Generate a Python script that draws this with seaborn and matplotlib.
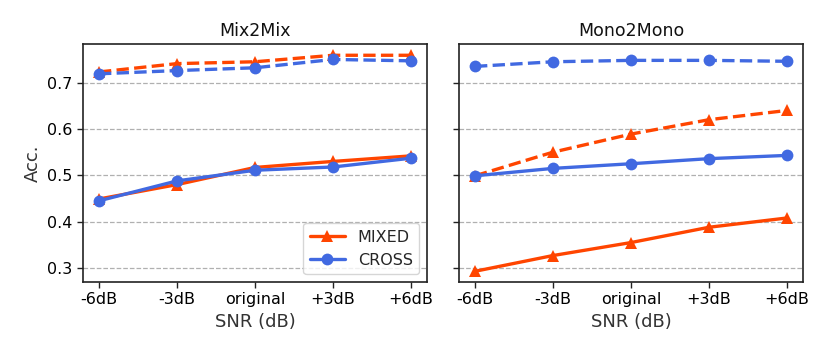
import matplotlib
matplotlib.use("Agg")
import matplotlib.pyplot as plt
import seaborn as sns

SNR_LEVELS = ["-6dB", "-3dB", "original", "+3dB", "+6dB"]

# Mix2Mix panel
MIX_MIXED_DASHED = [0.723, 0.741, 0.745, 0.759, 0.759]
MIX_CROSS_DASHED = [0.719, 0.726, 0.732, 0.750, 0.747]
MIX_MIXED_SOLID = [0.449, 0.480, 0.517, 0.530, 0.542]
MIX_CROSS_SOLID = [0.445, 0.488, 0.511, 0.518, 0.537]

# Mono2Mono panel
MONO_MIXED_DASHED = [0.499, 0.550, 0.589, 0.620, 0.640]
MONO_CROSS_DASHED = [0.735, 0.745, 0.748, 0.748, 0.746]
MONO_MIXED_SOLID = [0.293, 0.327, 0.355, 0.388, 0.408]
MONO_CROSS_SOLID = [0.499, 0.515, 0.525, 0.536, 0.543]

MIXED_COLOR = "#FF4500"
CROSS_COLOR = "#4169E1"

sns.set_style("white")
plt.rcParams["font.family"] = ["DejaVu Sans"]

fig, axes = plt.subplots(1, 2, figsize=(8.3, 3.56), dpi=100, sharey=True)
fig.subplots_adjust(left=0.100, right=0.9675, top=0.876, bottom=0.208, wspace=0.093)


def draw_series(ax, values, color, marker, dashed, label=None):
    sns.lineplot(
        x=SNR_LEVELS, y=values, ax=ax, sort=False, color=color,
        marker=marker, markersize=8.5, markeredgewidth=0, linewidth=2.4,
        linestyle="--" if dashed else "-", label=label, legend=False,
    )


panels = [
    ("Mix2Mix", MIX_MIXED_DASHED, MIX_CROSS_DASHED, MIX_MIXED_SOLID, MIX_CROSS_SOLID),
    ("Mono2Mono", MONO_MIXED_DASHED, MONO_CROSS_DASHED, MONO_MIXED_SOLID, MONO_CROSS_SOLID),
]

for ax, (title, mixed_d, cross_d, mixed_s, cross_s) in zip(axes, panels):
    draw_series(ax, mixed_d, MIXED_COLOR, "^", True)
    draw_series(ax, cross_d, CROSS_COLOR, "o", True)
    draw_series(ax, mixed_s, MIXED_COLOR, "^", False, "MIXED")
    draw_series(ax, cross_s, CROSS_COLOR, "o", False, "CROSS")

    ax.set_title(title, fontsize=12.5, color="#111111")
    ax.set_xlabel("SNR (dB)", fontsize=13, color="#333333")
    ax.set_xlim(-0.205, 4.205)
    ax.set_ylim(0.27, 0.783)
    ax.set_yticks([0.3, 0.4, 0.5, 0.6, 0.7])
    ax.yaxis.grid(True, linestyle="--", color="#b0b0b0", linewidth=0.9)
    ax.set_axisbelow(True)
    ax.tick_params(axis="both", labelsize=11.5, length=4, width=1,
                   left=True, bottom=True, color="#222222", labelcolor="black")
    for spine in ax.spines.values():
        spine.set_color("#222222")
        spine.set_linewidth(1.2)

axes[0].set_ylabel("Acc.", fontsize=13, color="#333333")
axes[1].set_ylabel("")

handles, labels = axes[0].get_legend_handles_labels()
axes[0].legend(handles, labels, loc="lower right", fontsize=11.5,
               frameon=True, handlelength=2.2)

fig.savefig("out.png", dpi=100)
